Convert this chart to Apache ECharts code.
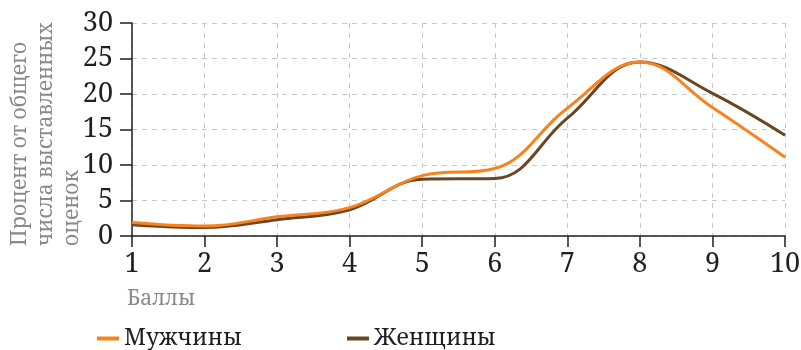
<!DOCTYPE html>
<html>
<head>
<meta charset="utf-8">
<script src="https://cdn.jsdelivr.net/npm/echarts@6/dist/echarts.min.js"></script>
<style>
  html, body { margin: 0; padding: 0; background: #fff; }
  #chart { width: 801px; height: 350px; }
</style>
</head>
<body>
<div id="chart"></div>
<script>
// Баллы (оценки от 1 до 10)
const scores = ['1', '2', '3', '4', '5', '6', '7', '8', '9', '10'];
// Доля оценок, %
const men   = [1.9, 1.4, 2.7, 4.0, 8.5, 9.5, 18.0, 24.5, 18.1, 11.1];
const women = [1.6, 1.2, 2.3, 3.7, 8.0, 8.1, 16.6, 24.5, 20.1, 14.2];

const yTicks = [0, 5, 10, 15, 20, 25, 30];
const yTitle = 'Процент от общего\nчисла выставленных\nоценок';
const xTitle = 'Баллы';

const FONT = 'Noto Serif';
const INK = '#231f20';
const GREY = '#8a8a8a';
const ORANGE = '#f7821e';
const BROWN = '#6b4624';

const chart = echarts.init(document.getElementById('chart'), null, { renderer: 'canvas' });

const legendItem = (name, left) => ({
  left: left, top: 327, padding: 0,
  icon: 'rect', itemWidth: 22, itemHeight: 4, itemGap: 0,
  textStyle: { fontFamily: FONT, fontSize: 23, color: INK },
  data: [name]
});

chart.setOption({
  animation: false,
  textStyle: { fontFamily: FONT },
  grid: { left: 132, right: 16, top: 23, bottom: 114, containLabel: false, outerBoundsMode: 'none' },
  legend: [legendItem('Мужчины', 97), legendItem('Женщины', 347)],
  graphic: [
    {
      // rotated, bottom-aligned y-axis title
      type: 'text',
      x: 46, y: 246,
      rotation: Math.PI / 2,
      silent: true,
      style: {
        text: yTitle,
        font: '21px "Noto Serif"',
        fill: GREY,
        align: 'left',
        verticalAlign: 'middle',
        lineHeight: 26
      }
    }
  ],
  xAxis: {
    type: 'category',
    data: scores,
    boundaryGap: false,
    name: xTitle,
    nameLocation: 'start',
    nameGap: 5,
    nameTextStyle: {
      fontFamily: FONT, fontSize: 21, color: GREY,
      align: 'left', verticalAlign: 'top', padding: [53, 0, 0, 0]
    },
    axisLine: { lineStyle: { color: INK, width: 1.5 } },
    axisTick: { show: true, length: 11, alignWithLabel: true, lineStyle: { color: INK, width: 1.5 } },
    axisLabel: { fontFamily: FONT, fontSize: 27, color: INK, margin: 15 },
    splitLine: { show: true, lineStyle: { color: '#c8c8c8', type: [5, 5], width: 1 } }
  },
  yAxis: {
    type: 'value',
    min: yTicks[0],
    max: yTicks[yTicks.length - 1],
    interval: 5,
    axisLine: { show: true, lineStyle: { color: INK, width: 1.5 } },
    axisTick: { show: true, length: 12, lineStyle: { color: INK, width: 1.5 } },
    axisLabel: { fontFamily: FONT, fontSize: 27, color: INK, margin: 19 },
    splitLine: { show: true, lineStyle: { color: '#c8c8c8', type: [5, 5], width: 1 } }
  },
  series: [
    {
      name: 'Женщины',
      type: 'line',
      data: women,
      smooth: 0.4,
      showSymbol: false,
      color: BROWN,
      lineStyle: { width: 3, color: BROWN }
    },
    {
      name: 'Мужчины',
      type: 'line',
      data: men,
      smooth: 0.4,
      showSymbol: false,
      color: ORANGE,
      lineStyle: { width: 3, color: ORANGE }
    }
  ]
});
</script>
</body>
</html>
